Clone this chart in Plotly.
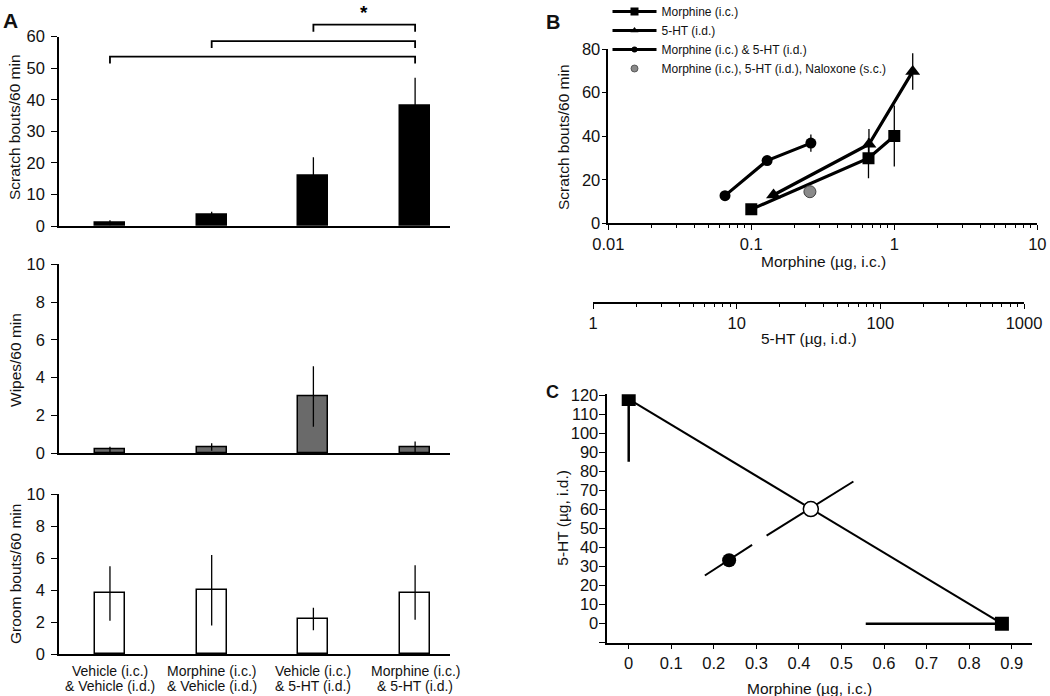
import plotly.graph_objects as go

W, H = 1050, 696
FONT = "Liberation Sans, Arial, sans-serif"

# ---------------- Data ----------------
# Panel A
cat_line1 = ["Vehicle (i.c.)", "Morphine (i.c.)", "Vehicle (i.c.)", "Morphine (i.c.)"]
cat_line2 = ["& Vehicle (i.d.)", "& Vehicle (i.d.)", "& 5-HT (i.d.)", "& 5-HT (i.d.)"]
categories = [a + " " + b for a, b in zip(cat_line1, cat_line2)]
scratch_mean = [1.0, 3.5, 16.0, 38.0]
scratch_sem = [0.8, 1.0, 5.8, 9.0]
wipes_mean = [0.2, 0.33, 3.0, 0.33]
wipes_sem = [0.15, 0.2, 1.6, 0.3]
groom_mean = [3.8, 4.0, 2.2, 3.85]
groom_sem = [1.7, 2.2, 0.7, 1.7]
sig_from = [0, 1, 2]
sig_to = [3, 3, 3]
sig_level = [53.7, 58.6, 63.8]
sig_label = ["", "", "*"]

# Panel B
morph_dose = [0.1, 0.66, 1.0]
morph_scratch = [6.4, 29.9, 40.1]
morph_sem = [2.5, 9.2, 14.0]
sero_dose = [0.143, 0.665, 1.345]      # positioned on the morphine-scale axis
sero_scratch = [13.0, 36.3, 69.7]
sero_sem = [2.0, 7.0, 8.4]
combo_dose = [0.0655, 0.129, 0.261]
combo_scratch = [12.7, 28.8, 36.8]
combo_sem = [1.5, 2.0, 4.0]
nalox_dose = [0.257]
nalox_scratch = [14.5]
legend_names = ["Morphine (i.c.)", "5-HT (i.d.)", "Morphine (i.c.) & 5-HT (i.d.)",
                "Morphine (i.c.), 5-HT (i.d.), Naloxone (s.c.)"]

# Panel C
iso_morphine = [0.0, 0.877]
iso_5ht = [118.0, 0.0]
iso_morphine_err_minus = [0.0, 0.32]
iso_5ht_err_minus = [33.0, 0.0]
exp_morphine = [0.236]
exp_5ht = [33.3]
exp_ci_morphine = [0.179, 0.290]
exp_ci_5ht = [25.3, 41.4]
add_morphine = [0.428]
add_5ht = [60.2]
add_ci_morphine = [0.324, 0.528]
add_ci_5ht = [46.3, 74.7]


# ---------------- helpers ----------------
def xdom(p0, p1):
    return [p0 / W, p1 / W]


def ydom(top, bottom):
    return [1 - bottom / H, 1 - top / H]


def px(x):
    return x / W


def py(y):
    return 1 - y / H


fig = go.Figure()

# ---------------- Panel A ----------------
A_X = (59, 450)
A_XRANGE = [-0.501, 3.343]
A_PANELS = [
    (scratch_mean, scratch_sem, "black", "x", "y", (36.7, 226)),
    (wipes_mean, wipes_sem, "#6a6a6a", "x2", "y2", (264.3, 453.3)),
    (groom_mean, groom_sem, "white", "x3", "y3", (494, 654.3)),
]
for vals, errs, fill, xa, ya, _ in A_PANELS:
    fig.add_trace(go.Bar(
        x=categories, y=vals, width=0.295,
        marker=dict(color=fill, line=dict(color="black", width=1.5)),
        error_y=dict(type="data", array=errs, visible=True, width=0, thickness=1.3, color="black"),
        xaxis=xa, yaxis=ya, showlegend=False, hoverinfo="skip"))

# ---------------- Panel B ----------------
ebB = dict(type="data", visible=True, width=0, thickness=1.3, color="black")
fig.add_trace(go.Scatter(x=morph_dose, y=morph_scratch, mode="lines+markers",
                         line=dict(color="black", width=3.2),
                         marker=dict(symbol="square", size=12, color="black"),
                         error_y=dict(ebB, array=morph_sem),
                         xaxis="x4", yaxis="y4", showlegend=False))
fig.add_trace(go.Scatter(x=sero_dose, y=sero_scratch, mode="lines+markers",
                         line=dict(color="black", width=3.2),
                         marker=dict(symbol="triangle-up", size=13, color="black"),
                         error_y=dict(ebB, array=sero_sem),
                         xaxis="x4", yaxis="y4", showlegend=False))
fig.add_trace(go.Scatter(x=combo_dose, y=combo_scratch, mode="lines+markers",
                         line=dict(color="black", width=3.2),
                         marker=dict(symbol="circle", size=11, color="black"),
                         error_y=dict(ebB, array=combo_sem),
                         xaxis="x4", yaxis="y4", showlegend=False))
fig.add_trace(go.Scatter(x=nalox_dose, y=nalox_scratch, mode="markers",
                         marker=dict(symbol="circle", size=12, color="#8a8a8a",
                                     line=dict(color="#444", width=1)),
                         xaxis="x4", yaxis="y4", showlegend=False))
# legend-only entries (smaller symbols as in the reference)
leg_symbols = ["square", "triangle-up", "circle", "circle"]
leg_sizes = [8, 7, 6, 7]
leg_modes = ["lines+markers", "lines+markers", "lines+markers", "markers"]
leg_colors = ["black", "black", "black", "#8a8a8a"]
for name, sym, sz, mode, col in zip(legend_names, leg_symbols, leg_sizes, leg_modes, leg_colors):
    fig.add_trace(go.Scatter(x=[None], y=[None], name=name, mode=mode,
                             line=dict(color="black", width=3.2),
                             marker=dict(symbol=sym, size=sz, color=col,
                                         line=dict(color="#444", width=0.8 if col != "black" else 0)),
                             xaxis="x4", yaxis="y4", showlegend=True))
# invisible anchor for the secondary 5-HT dose axis
fig.add_trace(go.Scatter(x=[1, 1000], y=[0, 0], mode="markers", marker=dict(opacity=0),
                         xaxis="x5", yaxis="y5", showlegend=False, hoverinfo="skip"))

# ---------------- Panel C ----------------
fig.add_trace(go.Scatter(x=iso_morphine, y=iso_5ht, mode="lines",
                         line=dict(color="black", width=2), xaxis="x6", yaxis="y6",
                         showlegend=False))
fig.add_trace(go.Scatter(x=exp_ci_morphine, y=exp_ci_5ht, mode="lines",
                         line=dict(color="black", width=2), xaxis="x6", yaxis="y6",
                         showlegend=False))
fig.add_trace(go.Scatter(x=add_ci_morphine, y=add_ci_5ht, mode="lines",
                         line=dict(color="black", width=2), xaxis="x6", yaxis="y6",
                         showlegend=False))
fig.add_trace(go.Scatter(x=iso_morphine, y=iso_5ht, mode="markers",
                         marker=dict(symbol="square", size=14, color="black"),
                         error_y=dict(type="data", array=[0, 0], arrayminus=iso_5ht_err_minus,
                                      visible=True, width=0, thickness=2.5, color="black"),
                         error_x=dict(type="data", array=[0, 0], arrayminus=iso_morphine_err_minus,
                                      visible=True, width=0, thickness=2.5, color="black"),
                         xaxis="x6", yaxis="y6", showlegend=False))
fig.add_trace(go.Scatter(x=exp_morphine, y=exp_5ht, mode="markers",
                         marker=dict(symbol="circle", size=14, color="black"),
                         xaxis="x6", yaxis="y6", showlegend=False))
fig.add_trace(go.Scatter(x=add_morphine, y=add_5ht, mode="markers",
                         marker=dict(symbol="circle", size=15, color="white",
                                     line=dict(color="black", width=1.5)),
                         xaxis="x6", yaxis="y6", showlegend=False))

# ---------------- Axes ----------------
TICKSIZE = 16.5
base = dict(showgrid=False, zeroline=False, showline=True, linecolor="black", linewidth=1.5,
            tickcolor="black", automargin=False,
            tickfont=dict(family=FONT, size=TICKSIZE, color="#111"))

layout = dict(
    width=W, height=H, margin=dict(l=0, r=0, t=0, b=0, autoexpand=False),
    paper_bgcolor="white", plot_bgcolor="rgba(0,0,0,0)",
    font=dict(family=FONT, color="black"),
    bargap=0, showlegend=True,
    legend=dict(x=px(607.5), y=py(-3), xanchor="left", yanchor="top",
                font=dict(family=FONT, size=12, color="#111"),
                bgcolor="rgba(0,0,0,0)", tracegroupgap=0, itemwidth=44,
                itemclick=False, itemdoubleclick=False),
)

a_yticks = [dict(range=[0, 60], tickvals=list(range(0, 61, 10))),
            dict(range=[0, 10], tickvals=list(range(0, 11, 2))),
            dict(range=[0, 10], tickvals=list(range(0, 11, 2)))]
for i, (_, _, _, xa, ya, (top, bot)) in enumerate(A_PANELS):
    xname = "xaxis" if i == 0 else f"xaxis{i + 1}"
    yname = "yaxis" if i == 0 else f"yaxis{i + 1}"
    layout[xname] = dict(base, domain=xdom(*A_X), anchor=ya, type="category",
                         range=A_XRANGE, ticks="", showticklabels=False)
    layout[yname] = dict(base, domain=ydom(top, bot), anchor=xa,
                         ticks="outside", ticklen=6, tickwidth=1.3,
                         ticklabelstandoff=3, **a_yticks[i])

minorB = []
for dec in [0.01, 0.1, 1]:
    minorB += [dec * k for k in range(2, 10)]
layout["xaxis4"] = dict(base, domain=xdom(608.3, 1037.3), anchor="y4", type="log",
                        range=[-2, 1], tickvals=[0.01, 0.1, 1, 10],
                        ticktext=["0.01", "0.1", "1", "10"],
                        ticks="outside", ticklen=5, tickwidth=1.3,
                        minor=dict(tickvals=minorB, ticks="outside", ticklen=3,
                                   tickwidth=1, tickcolor="black"))
layout["yaxis4"] = dict(base, domain=ydom(49, 223.3), anchor="x4", range=[0, 80],
                        tickvals=[0, 20, 40, 60, 80], ticks="outside", ticklen=5,
                        tickwidth=1.3, ticklabelstandoff=-2)

minor5 = []
for dec in [1, 10, 100]:
    minor5 += [dec * k for k in range(2, 10)]
layout["xaxis5"] = dict(base, domain=xdom(593, 1024), anchor="y5", type="log",
                        range=[0, 3], tickvals=[1, 10, 100, 1000],
                        ticktext=["1", "10", "100", "1000"],
                        ticks="outside", ticklen=5, tickwidth=1.3,
                        minor=dict(tickvals=minor5, ticks="outside", ticklen=3,
                                   tickwidth=1, tickcolor="black"))
layout["yaxis5"] = dict(domain=ydom(300, 302), anchor="x5", visible=False, range=[-1, 1],
                        automargin=False)

layout["xaxis6"] = dict(base, domain=xdom(607.3, 1031.7), anchor="y6",
                        range=[-0.0503, 0.947], tickvals=[round(0.1 * k, 1) for k in range(10)],
                        ticktext=["0"] + [f"{0.1 * k:.1f}" for k in range(1, 10)],
                        ticks="outside", ticklen=5, tickwidth=1.3)
layout["yaxis6"] = dict(base, domain=ydom(394.3, 642.7), anchor="x6", range=[-10, 120.5],
                        tickvals=list(range(-10, 121, 10)),
                        ticktext=[""] + [str(v) for v in range(0, 121, 10)],
                        ticks="outside", ticklen=7, tickwidth=1.3, ticklabelstandoff=-3)

# ---------------- Significance brackets (panel A, top) ----------------
a1_top, a1_bot = 36.7, 226


def a1x(v):
    return A_X[0] + (v - A_XRANGE[0]) / (A_XRANGE[1] - A_XRANGE[0]) * (A_X[1] - A_X[0])


def a1y(v):
    return a1_bot - v / 60 * (a1_bot - a1_top)


shapes = []
annotations = []
drop = 2.2
for i0, i1, lev, lab in zip(sig_from, sig_to, sig_level, sig_label):
    x0, x1 = a1x(i0), a1x(i1)
    y_top, y_low = a1y(lev), a1y(lev - drop)
    shapes.append(dict(type="path", xref="paper", yref="paper",
                       path=f"M {px(x0)},{py(y_low)} L {px(x0)},{py(y_top)} "
                            f"L {px(x1)},{py(y_top)} L {px(x1)},{py(y_low)}",
                       line=dict(color="black", width=1.8)))
    if lab:
        annotations.append(dict(x=px(a1x((i0 + i1) / 2)), y=py(a1y(lev + 4.0)), xref="paper",
                                yref="paper", text=f"<b>{lab}</b>", showarrow=False,
                                font=dict(family=FONT, size=19, color="black"),
                                xanchor="center", yanchor="middle"))
layout["shapes"] = shapes


def label(text, x, y, size=15.5, angle=0, bold=False):
    annotations.append(dict(x=px(x), y=py(y), xref="paper", yref="paper",
                            text=f"<b>{text}</b>" if bold else text, showarrow=False,
                            textangle=angle, xanchor="center", yanchor="middle",
                            font=dict(family=FONT, size=size, color="#111")))


# category labels under panel A (two lines each)
for i, (l1, l2) in enumerate(zip(cat_line1, cat_line2)):
    label(l1, a1x(i), 671, size=14)
    label(l2, a1x(i), 685.5, size=14)

label("A", 10, 21, size=21, bold=True)
label("B", 553, 22, size=20, bold=True)
label("C", 552.5, 392.5, size=18, bold=True)
label("Scratch bouts/60 min", 14, 127, angle=-90)
label("Wipes/60 min", 15, 360, angle=-90)
label("Groom bouts/60 min", 15, 574, angle=-90)
label("Scratch bouts/60 min", 563, 137, angle=-90)
label("Morphine (µg, i.c.)", 823, 262)
label("5-HT (µg, i.d.)", 809, 339)
label("5-HT (µg, i.d.)", 561.7, 518, angle=-90)
label("Morphine (µg, i.c.)", 809.3, 688)
layout["annotations"] = annotations

fig.update_layout(**layout)
fig.write_html("out.html", config={"displayModeBar": False},
               post_script="document.body.style.margin='0px';")
